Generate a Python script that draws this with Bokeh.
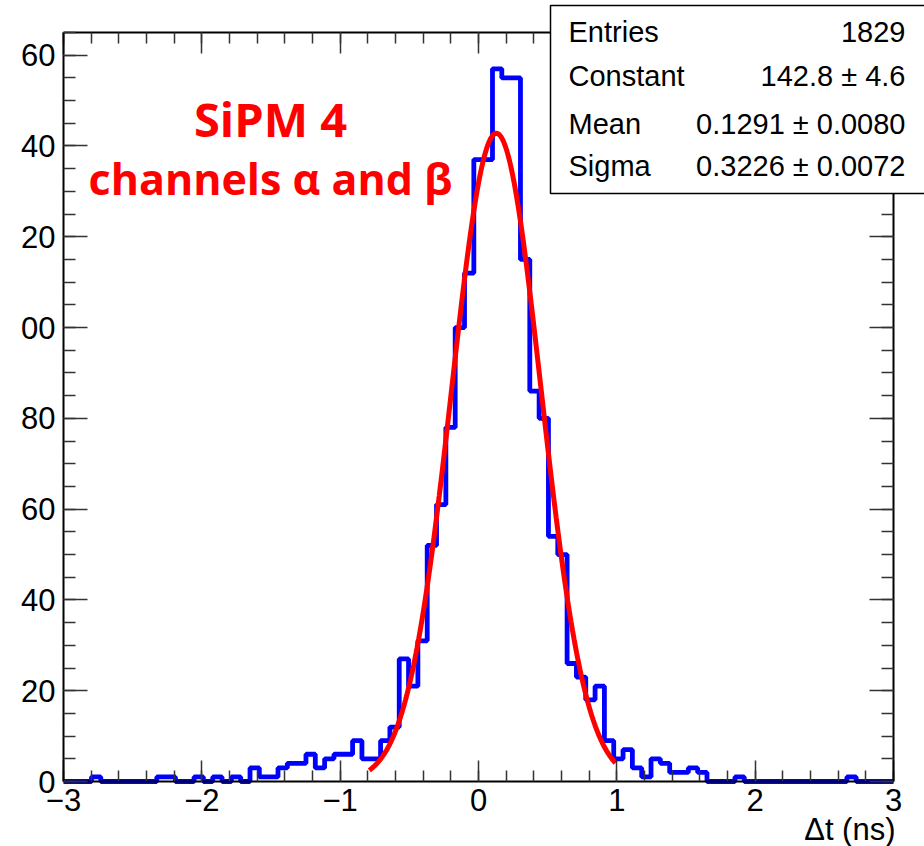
import numpy as np
from bokeh.plotting import figure
from bokeh.models import Range1d, FixedTicker, LinearAxis, Label, BoxAnnotation
from bokeh.embed import file_html
from bokeh.resources import INLINE

# ---------------- data ----------------
x_min, x_max = -3.0, 3.0
n_bins = 89
counts = [0, 0, 0, 1, 0, 0, 0, 0, 0, 0,
          1, 1, 0, 0, 1, 0, 1, 0, 1, 0,
          3, 1, 1, 3, 4, 4, 6, 3, 5, 6,
          6, 9, 5, 5, 9, 12, 27, 21, 31, 52,
          61, 78, 100, 112, 137, 137, 157, 155, 155, 115,
          86, 80, 54, 50, 26, 23, 18, 21, 9, 5,
          7, 3, 1, 5, 4, 2, 2, 3, 2, 0,
          0, 0, 1, 0, 0, 0, 0, 0, 0, 0,
          0, 0, 0, 0, 1, 0, 0, 0, 0]
y_max = 165

fit_constant = 142.8
fit_mean = 0.1291
fit_sigma = 0.3226
fit_lo, fit_hi = -0.79, 0.99

x_ticks = [-3, -2, -1, 0, 1, 2, 3]
x_tick_labels = ["\u22123", "\u22122", "\u22121", "0", "1", "2", "3"]
y_ticks = [0, 20, 40, 60, 80, 100, 120, 140, 160]
y_tick_labels = ["0", "20", "40", "60", "80", "00", "20", "40", "60"]

stats_names = ["Entries", "Constant", "Mean", "Sigma"]
stats_values = ["1829", "142.8 \u00b1 4.6", "0.1291 \u00b1 0.0080", "0.3226 \u00b1 0.0072"]

x_title = "\u0394t (ns)"
note_lines = ["SiPM 4", "channels \u03b1 and \u03b2"]

# ---------------- geometry (pixels) ----------------
W, H = 924, 846
FL, FR, FT, FB = 63, 893, 32, 781   # plot-frame edges in the picture


def px_to_x(px):
    return x_min + (px - FL) / (FR - FL) * (x_max - x_min)


def py_to_y(py):
    return (FB - py) / (FB - FT) * y_max


# the figure frame covers the whole canvas; axes are pinned at the data edges
p = figure(width=W, height=H,
           x_range=Range1d(px_to_x(0), px_to_x(W)), y_range=Range1d(py_to_y(H), py_to_y(0)),
           output_backend="svg", toolbar_location=None,
           x_axis_location=None, y_axis_location=None,
           min_border=0, min_border_left=0, min_border_right=0,
           min_border_top=0, min_border_bottom=0)
p.grid.visible = False
p.outline_line_color = None
p.background_fill_color = "white"
p.border_fill_color = "white"

x_minor = [round(v, 2) for v in np.arange(x_min, x_max + 1e-9, 0.2)]
y_minor = list(range(0, 166, 5))
xt = FixedTicker(ticks=x_ticks, minor_ticks=x_minor)
yt = FixedTicker(ticks=y_ticks, minor_ticks=y_minor)


def style(ax, maj, mino, labels=True, standoff=8):
    ax.axis_line_color = "black"
    ax.axis_line_width = 2
    ax.major_tick_in = maj
    ax.major_tick_out = 0
    ax.minor_tick_in = mino
    ax.minor_tick_out = 0
    ax.major_tick_line_color = "#333333"
    ax.minor_tick_line_color = "#333333"
    ax.major_tick_line_width = 1.5
    ax.minor_tick_line_width = 1.5
    ax.major_label_text_font = "Liberation Sans"
    ax.major_label_text_font_size = "31px"
    ax.major_label_standoff = standoff
    if labels:
        ax.major_label_text_color = "black"
    else:
        ax.major_label_text_color = None


xb = LinearAxis(ticker=xt, fixed_location=0, bounds=(x_min, x_max),
                major_label_overrides=dict(zip(x_ticks, x_tick_labels)))
style(xb, 21, 11, True, 7)
p.add_layout(xb, "below")
xa = LinearAxis(ticker=xt, fixed_location=y_max, bounds=(x_min, x_max))
style(xa, 21, 11, False)
p.add_layout(xa, "above")
yl = LinearAxis(ticker=yt, fixed_location=x_min, bounds=(0, y_max),
                major_label_overrides=dict(zip(y_ticks, y_tick_labels)))
style(yl, 24, 12, True, 8)
p.add_layout(yl, "left")
yr = LinearAxis(ticker=yt, fixed_location=x_max, bounds=(0, y_max))
style(yr, 24, 12, False)
p.add_layout(yr, "right")

# histogram
edges = np.linspace(x_min, x_max, n_bins + 1)
step_y = list(counts) + [counts[-1]]
p.step(list(edges), step_y, mode="after", line_color="#0000ff", line_width=4.8)

# gaussian fit
fx = np.linspace(fit_lo, fit_hi, 300)
fy = fit_constant * np.exp(-0.5 * ((fx - fit_mean) / fit_sigma) ** 2)
p.line(fx, fy, line_color="#ff0000", line_width=5)

BASE_SHIFT = 0.42  # Bokeh places alphabetic baseline this many em lower


def add_text(px, py_base, txt, size, align, color="black", font="Liberation Sans", style_="normal"):
    p.add_layout(Label(x=px_to_x(px), y=py_to_y(py_base - BASE_SHIFT * size), text=txt,
                       text_align=align, text_baseline="alphabetic", text_color=color,
                       text_font=font, text_font_style=style_, text_font_size=f"{size}px",
                       level="overlay"))


# red annotation
add_text(270, 138, note_lines[0], 47, "center", "#ff0000", "Open Sans", "bold")
add_text(270, 196, note_lines[1], 43, "center", "#ff0000", "Open Sans", "bold")

# stats box
p.add_layout(BoxAnnotation(left=px_to_x(550), right=px_to_x(950), top=py_to_y(5), bottom=py_to_y(193),
                           fill_color="white", fill_alpha=1.0, line_color="black", line_alpha=1.0,
                           line_width=1.5, level="overlay"))
row_base = [44, 88, 136, 178]
for name, val, yb in zip(stats_names, stats_values, row_base):
    add_text(568, yb, name, 29, "left")
    add_text(905, yb, val, 29, "right")

# x axis title (right aligned under the axis end)
add_text(895, 842, x_title, 31, "right")

open("out.html", "w").write(file_html(p, INLINE))
